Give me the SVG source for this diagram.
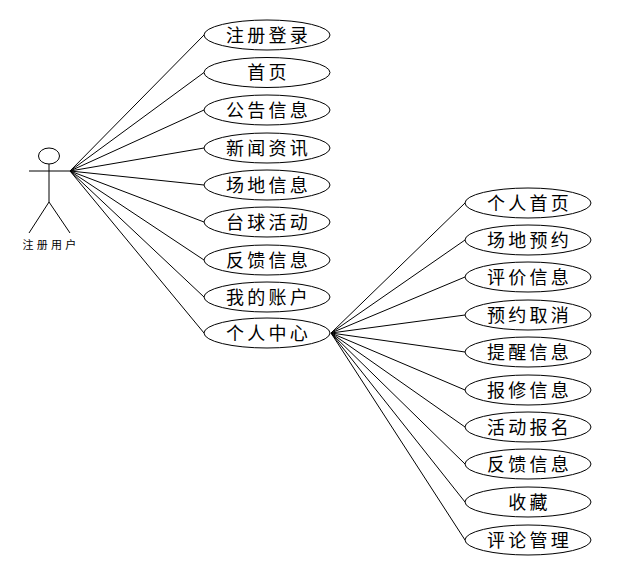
<svg xmlns="http://www.w3.org/2000/svg" width="620" height="582" viewBox="0 0 620 582">
<style>
.e{fill:#fff;stroke:#000;stroke-width:1}
.l{fill:none;stroke:#000;stroke-width:1}
text{font-family:"Noto Sans CJK SC","Liberation Sans",sans-serif;font-size:18px;fill:#000;text-anchor:middle;letter-spacing:3.300px}
.a{font-size:11px;letter-spacing:3.300px}
</style>
<rect width="620" height="582" fill="#fff"/>
<g id="connectors" class="l">
<path d="M70 171L204 35M70 171L204 72.500M70 171L204 110M70 171L204 148M70 171L204 185M70 171L204 222M70 171L204 260M70 171L204 297M70 171L204 333"/>
<path d="M331 333L465 203M331 333L465 240M331 333L465 277M331 333L465 315M331 333L465 352M331 333L465 390M331 333L465 427M331 333L465 464M331 333L465 502M331 333L465 540"/>
</g>
<g id="actor">
<ellipse class="e" cx="49" cy="156" rx="10.500" ry="8"/>
<path class="l" d="M49 164V202M29 171H70M49 202L29 233M49 202L70 233"/>
<text class="a" x="51" y="249">注册用户</text>
</g>
<g id="n1"><ellipse class="e" cx="267" cy="35" rx="63" ry="15"/><text x="268.500" y="42">注册登录</text></g>
<g id="n2"><ellipse class="e" cx="267" cy="72.500" rx="63" ry="15"/><text x="268.500" y="79">首页</text></g>
<g id="n3"><ellipse class="e" cx="267" cy="110" rx="63" ry="15"/><text x="268.500" y="117">公告信息</text></g>
<g id="n4"><ellipse class="e" cx="267" cy="148" rx="63" ry="15"/><text x="268.500" y="155">新闻资讯</text></g>
<g id="n5"><ellipse class="e" cx="267" cy="185" rx="63" ry="15"/><text x="268.500" y="192">场地信息</text></g>
<g id="n6"><ellipse class="e" cx="267" cy="222" rx="63" ry="15"/><text x="268.500" y="229">台球活动</text></g>
<g id="n7"><ellipse class="e" cx="267" cy="260" rx="63" ry="15"/><text x="268.500" y="267">反馈信息</text></g>
<g id="n8"><ellipse class="e" cx="267" cy="297" rx="63" ry="15"/><text x="268.500" y="304">我的账户</text></g>
<g id="n9"><ellipse class="e" cx="267" cy="333" rx="63" ry="15"/><text x="268.500" y="340">个人中心</text></g>
<g id="m1"><ellipse class="e" cx="528" cy="203" rx="63" ry="15"/><text x="529.500" y="210">个人首页</text></g>
<g id="m2"><ellipse class="e" cx="528" cy="240" rx="63" ry="15"/><text x="529.500" y="247">场地预约</text></g>
<g id="m3"><ellipse class="e" cx="528" cy="277" rx="63" ry="15"/><text x="529.500" y="284">评价信息</text></g>
<g id="m4"><ellipse class="e" cx="528" cy="315" rx="63" ry="15"/><text x="529.500" y="322">预约取消</text></g>
<g id="m5"><ellipse class="e" cx="528" cy="352" rx="63" ry="15"/><text x="529.500" y="359">提醒信息</text></g>
<g id="m6"><ellipse class="e" cx="528" cy="390" rx="63" ry="15"/><text x="529.500" y="397">报修信息</text></g>
<g id="m7"><ellipse class="e" cx="528" cy="427" rx="63" ry="15"/><text x="529.500" y="434">活动报名</text></g>
<g id="m8"><ellipse class="e" cx="528" cy="464" rx="63" ry="15"/><text x="529.500" y="471">反馈信息</text></g>
<g id="m9"><ellipse class="e" cx="528" cy="502" rx="63" ry="15"/><text x="529.500" y="509">收藏</text></g>
<g id="m10"><ellipse class="e" cx="528" cy="540" rx="63" ry="15"/><text x="529.500" y="547">评论管理</text></g>
</svg>
